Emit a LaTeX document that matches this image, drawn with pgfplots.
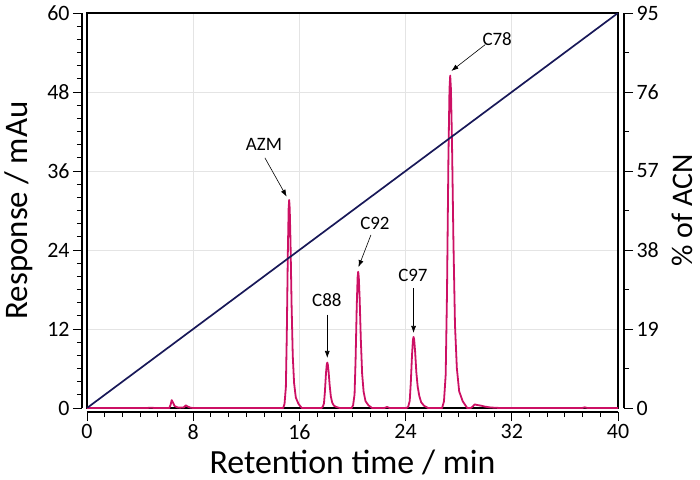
\documentclass[border=0pt]{standalone}
\usepackage{pgfplots}
\pgfplotsset{compat=1.18}
\usepackage{fontspec}
\setmainfont{Carlito}
\usetikzlibrary{arrows.meta}
\definecolor{peak}{RGB}{204,16,100}
\definecolor{navy}{RGB}{24,24,88}
\definecolor{gridc}{RGB}{228,228,228}
\begin{document}
\begin{tikzpicture}
\useasboundingbox (-87bp,-72bp) rectangle (613bp,408bp);
\pgfplotsset{
  every axis/.append style={
    scale only axis, width=531bp, height=395bp,
    xmin=0, xmax=40,
    /pgf/number format/assume math mode=true,
    tick label style={font=\fontsize{22}{26}\selectfont},
    tick align=outside,
    major tick length=9bp, minor tick length=5bp,
    every tick/.style={black, line width=0.9bp},
    axis line style={line width=1.1bp},
  }
}
\begin{axis}[
  ymin=0, ymax=60,
  xtick={0,8,...,40}, ytick={0,12,...,60},
  minor x tick num=5, minor y tick num=5,
  axis x line*=bottom, axis y line*=left,
  axis x line shift=4bp, axis y line shift=5bp,
  grid=major,
  major grid style={gridc, line width=0.7bp},
  xlabel={Retention time / min},
  ylabel={Response / mAu},
  xlabel style={font=\fontsize{34}{40}\selectfont, at={(axis description cs:0.5,-0.1367)}, anchor=center},
  ylabel style={font=\fontsize{33}{40}\selectfont, at={(axis description cs:-0.1280,0.5)}, anchor=center},
  clip=false,
]
\draw[line width=1.1bp] (rel axis cs:0,0) rectangle (rel axis cs:1,1);
\addplot[peak, line width=1.8bp, line join=round] coordinates {
(0,0) (4.5,0) (4.8,0.05) (5.1,0) (6.2,0) (6.3,0.5) (6.38,1.2) (6.48,0.8) (6.6,0.3) (6.8,0.1) (7.0,0.05) (7.3,0.1) (7.45,0.4) (7.6,0.2) (7.8,0.05) (8.0,0)
(14.78,0) (14.88,0.63) (14.98,3.16) (15.05,11.06) (15.13,23.7) (15.19,30.34) (15.23,31.6) (15.27,30.34) (15.33,25.28) (15.41,15.8) (15.50,7.9) (15.60,3.79) (15.73,1.58) (15.93,0.63) (16.18,0)
(17.65,0) (17.75,0.14) (17.85,0.69) (17.92,2.42) (18.00,5.18) (18.06,6.62) (18.10,6.9) (18.14,6.62) (18.20,5.52) (18.28,3.45) (18.37,1.73) (18.47,0.83) (18.60,0.35) (18.80,0.14) (19.05,0)
(19.935,0) (20.045,0.41) (20.155,2.07) (20.232,7.25) (20.32,15.53) (20.386,19.87) (20.43,20.7) (20.474,19.87) (20.54,16.56) (20.628,10.35) (20.727,5.18) (20.837,2.48) (20.98,1.04) (21.2,0.41) (21.475,0)
(22.4,0) (22.6,0.15) (22.8,0)
(24.08,0) (24.20,0.22) (24.31,1.08) (24.39,3.78) (24.485,8.1) (24.554,10.37) (24.6,10.8) (24.646,10.37) (24.715,8.64) (24.81,5.4) (24.91,3.24) (25.03,1.84) (25.175,0.86) (25.4,0.32) (25.7,0)
(26.75,0) (26.89,1.01) (27.02,5.05) (27.12,17.68) (27.225,37.88) (27.306,48.48) (27.36,50.5) (27.414,48.48) (27.495,40.4) (27.603,25.25) (27.72,12.63) (27.86,6.06) (28.035,2.53) (28.305,1.01) (28.64,0)
(28.9,0) (29.05,0.2) (29.2,0.55) (29.4,0.45) (29.7,0.35) (30.0,0.2) (30.4,0.08) (30.8,0.03) (31.2,0)
(37.3,0) (37.5,0.1) (37.7,0) (40,0)
};
\begin{scope}[font=\fontsize{19}{22}\selectfont]
\node at (axis cs:13.33,40.0) {AZM};
\draw[line width=0.6bp, -{Latex[length=7bp,width=5bp]}] (axis cs:13.4,38.0) -- (axis cs:15.04,32.1);
\node at (axis cs:18.07,16.4) {C88};
\draw[line width=0.6bp, -{Latex[length=7bp,width=5bp]}] (axis cs:18.1,14.2) -- (axis cs:18.1,7.6);
\node at (axis cs:21.69,28.1) {C92};
\draw[line width=0.6bp, -{Latex[length=7bp,width=5bp]}] (axis cs:21.39,26.3) -- (axis cs:20.45,21.4);
\node at (axis cs:24.55,20.1) {C97};
\draw[line width=0.6bp, -{Latex[length=7bp,width=5bp]}] (axis cs:24.6,18.2) -- (axis cs:24.6,11.4);
\node at (axis cs:30.9,56.0) {C78};
\draw[line width=0.6bp, -{Latex[length=7bp,width=5bp]}] (axis cs:30.0,55.2) -- (axis cs:27.45,51.2);
\end{scope}
\end{axis}
\begin{axis}[
  ymin=0, ymax=95,
  axis x line=none,
  axis y line*=right,
  axis y line shift=6bp,
  ytick={0,19,...,95},
  minor y tick num=1,
  ylabel={\% of ACN},
  ylabel style={font=\fontsize{30}{36}\selectfont, at={(axis description cs:1.1205,0.5)}, anchor=center},
]
\addplot[navy, line width=1.7bp] coordinates {(0,0) (40,95)};
\end{axis}
\end{tikzpicture}
\end{document}
